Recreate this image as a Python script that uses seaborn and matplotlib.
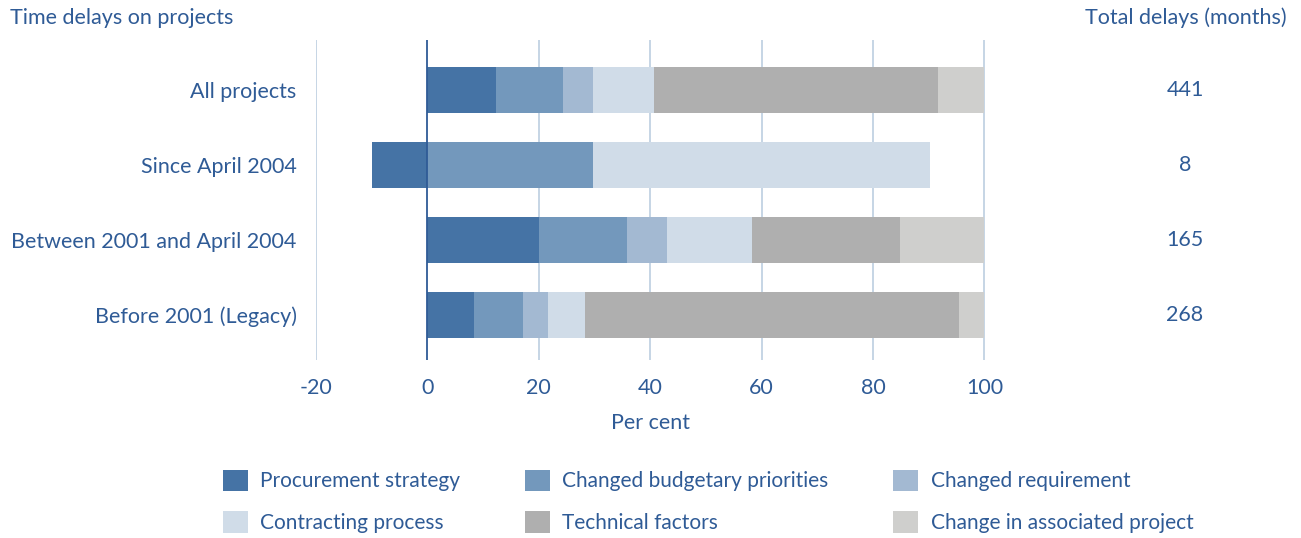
import numpy as np
import pandas as pd
import matplotlib
matplotlib.use("Agg")
import matplotlib.pyplot as plt
import matplotlib.transforms as mtransforms
import seaborn as sns

categories = ["All projects", "Since April 2004", "Between 2001 and April 2004", "Before 2001 (Legacy)"]
series_names = ["Procurement strategy", "Changed budgetary priorities", "Changed requirement",
                "Contracting process", "Technical factors", "Change in associated project"]
procurement = [12.3, -10.0, 20.0, 8.3]
budgetary = [12.0, 29.8, 15.8, 8.8]
requirement = [5.4, 0.0, 7.2, 4.5]
contracting = [10.9, 60.4, 15.2, 6.7]
technical = [51.0, 0.0, 26.6, 67.2]
associated = [8.4, 0.0, 15.2, 4.5]
total_delays = ["441", "8", "165", "268"]
x_ticks = [-20, 0, 20, 40, 60, 80, 100]

colors = ["#4573a5", "#7398bc", "#a3b9d2", "#d0dce8", "#afafaf", "#cfcfcd"]
text_color = "#2f5b96"
FS = 15.5
LFS = 15

sns.set_theme(style="white")
plt.rcParams['font.family'] = ['Lato', 'DejaVu Sans']

series = [procurement, budgetary, requirement, contracting, technical, associated]
df = pd.DataFrame({n: v for n, v in zip(series_names, series)}, index=categories)
pos = df.clip(lower=0).cumsum(axis=1)
neg = df.clip(upper=0).cumsum(axis=1)

fig = plt.figure(figsize=(13.01, 5.38), dpi=100)
ax = fig.add_axes([316 / 1301, 1 - 360 / 538, (985.5 - 316) / 1301, 320 / 538])

for i in reversed(range(len(series_names))):
    name = series_names[i]
    sns.barplot(x=pos[name].values, y=categories, color=colors[i], orient="h",
                width=0.62, ax=ax, saturation=1, linewidth=0, zorder=3, label=name)
for i in reversed(range(len(series_names))):
    name = series_names[i]
    if (df[name] < 0).any():
        sns.barplot(x=neg[name].values, y=categories, color=colors[i], orient="h",
                    width=0.62, ax=ax, saturation=1, linewidth=0, zorder=3)

ax.set_xlim(-20, 100.2)
ax.set_ylim(3.6, -0.67)
ax.set_xticks(x_ticks)
ax.set_xticklabels([str(t) for t in x_ticks])
for t in x_ticks:
    ax.axvline(t, color="#2f5b96" if t == 0 else "#c2d2e3", lw=1.3,
               zorder=4 if t == 0 else 1)
for s in ax.spines.values():
    s.set_visible(False)
ax.tick_params(axis="both", length=0, labelsize=FS, labelcolor=text_color)
ax.tick_params(axis="x", pad=13)
ax.tick_params(axis="y", pad=14)
ax.set_xlabel("Per cent", fontsize=FS, color=text_color, labelpad=11)
ax.set_ylabel("")
ax.grid(False)

trans = mtransforms.blended_transform_factory(fig.transFigure, ax.transData)
for i, v in enumerate(total_delays):
    ax.text(1185 / 1301, i, v, transform=trans, ha="center", va="center",
            fontsize=FS, color=text_color)

fig.text(10 / 1301, 1 - 18 / 538, "Time delays on projects", ha="left", va="center",
         fontsize=FS, color=text_color)
fig.text(1287 / 1301, 1 - 18 / 538, "Total delays (months)", ha="right", va="center",
         fontsize=FS, color=text_color)

h, l = ax.get_legend_handles_labels()
lookup = dict(zip(l, h))
order = [0, 3, 1, 4, 2, 5]
leg_h = [lookup[series_names[k]] for k in order]
leg_l = [series_names[k] for k in order]
if ax.legend_:
    ax.legend_.remove()
leg = fig.legend(leg_h, leg_l, ncol=3, loc="upper left", bbox_to_anchor=(204 / 1301, 1 - 451 / 538),
                 frameon=False, fontsize=LFS, handlelength=1.2, handleheight=1.2,
                 handletextpad=0.6, columnspacing=3.1, labelspacing=0.95, labelcolor=text_color)

fig.savefig("out.png", dpi=100)
